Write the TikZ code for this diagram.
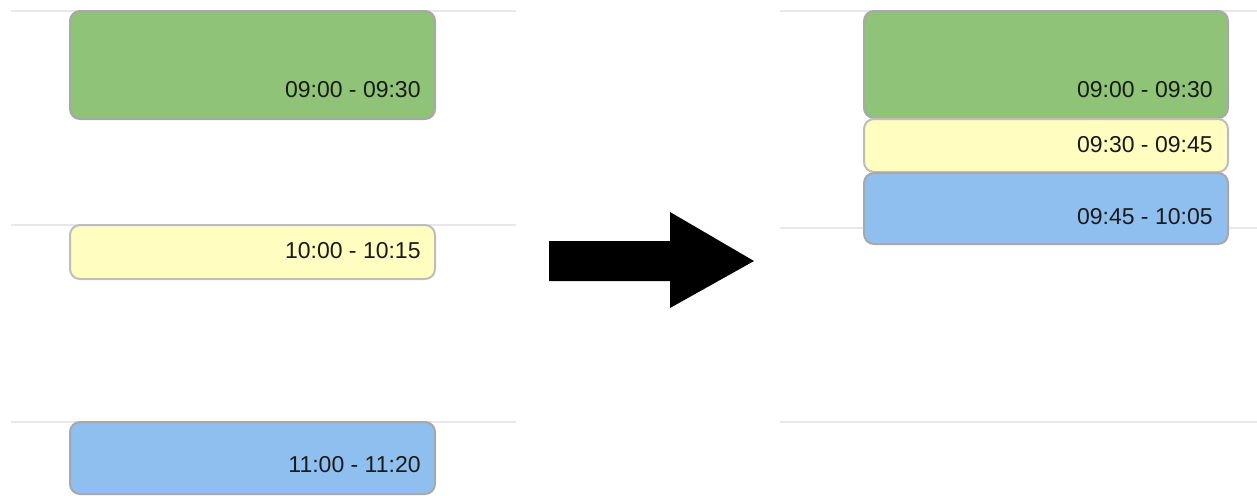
\documentclass[tikz,border=0pt]{standalone}
\usepackage{fontspec}
\setmainfont{Liberation Sans}
\definecolor{evgreen}{HTML}{8FC378}
\definecolor{evyellow}{HTML}{FFFDC0}
\definecolor{evblue}{HTML}{8FBFEE}
\definecolor{evborder}{HTML}{A8A8A8}
\definecolor{evborderlight}{HTML}{BDBDBD}
\definecolor{gridgray}{HTML}{E8E8E8}
\definecolor{txt}{HTML}{1A1A1A}
\begin{document}
\begin{tikzpicture}[x=0.5pt,y=-0.5pt,
  evbox/.style={draw=evborder, line width=1pt, rounded corners=5pt, inner sep=0pt, anchor=north west},
  evtext/.style={anchor=east, inner sep=0pt, text=txt, font=\fontsize{11.5pt}{13pt}\selectfont},
  gridline/.style={draw=gridgray, line width=1pt}]
\useasboundingbox (0,0) rectangle (1257,495);
% grid lines
\coordinate (l1a) at (11,11); \coordinate (l1b) at (516,11);
\coordinate (l2a) at (11,225); \coordinate (l2b) at (516,225);
\coordinate (l3a) at (11,422); \coordinate (l3b) at (516,422);
\coordinate (r1a) at (780,11); \coordinate (r1b) at (1257,11);
\coordinate (r2a) at (780,228); \coordinate (r2b) at (1257,228);
\coordinate (r3a) at (780,422); \coordinate (r3b) at (1257,422);
\draw[gridline] (l1a) -- (l1b);
\draw[gridline] (l2a) -- (l2b);
\draw[gridline] (l3a) -- (l3b);
\draw[gridline] (r1a) -- (r1b);
\draw[gridline] (r2a) -- (r2b);
\draw[gridline] (r3a) -- (r3b);
% left boxes
\node[evbox, fill=evgreen, minimum width=182.5pt, minimum height=54pt] (lg) at (69,10) {};
\node[evtext] (lgt) at (421,90) {09:00 - 09:30};
\node[evbox, draw=evborderlight, fill=evyellow, minimum width=182.5pt, minimum height=27pt] (ly) at (69,224) {};
\node[evtext] (lyt) at (421,251) {10:00 - 10:15};
\node[evbox, fill=evblue, minimum width=182.5pt, minimum height=36pt] (lb) at (69,421) {};
\node[evtext] (lbt) at (421,465) {11:00 - 11:20};
% arrow
\fill[black] (549,241) -- (670,241) -- (670,212) -- (754,261) -- (670,308) -- (670,281) -- (549,281) -- cycle;
% right boxes
\node[evbox, fill=evgreen, minimum width=182pt, minimum height=53.5pt] (rg) at (863,10) {};
\node[evtext] (rgt) at (1213,90) {09:00 - 09:30};
\node[evbox, draw=evborderlight, fill=evyellow, minimum width=182pt, minimum height=26.5pt] (ry) at (863,118) {};
\node[evtext] (ryt) at (1213,145) {09:30 - 09:45};
\node[evbox, fill=evblue, minimum width=182pt, minimum height=35.5pt] (rb) at (863,172) {};
\node[evtext] (rbt) at (1213,217) {09:45 - 10:05};
\end{tikzpicture}
\end{document}
